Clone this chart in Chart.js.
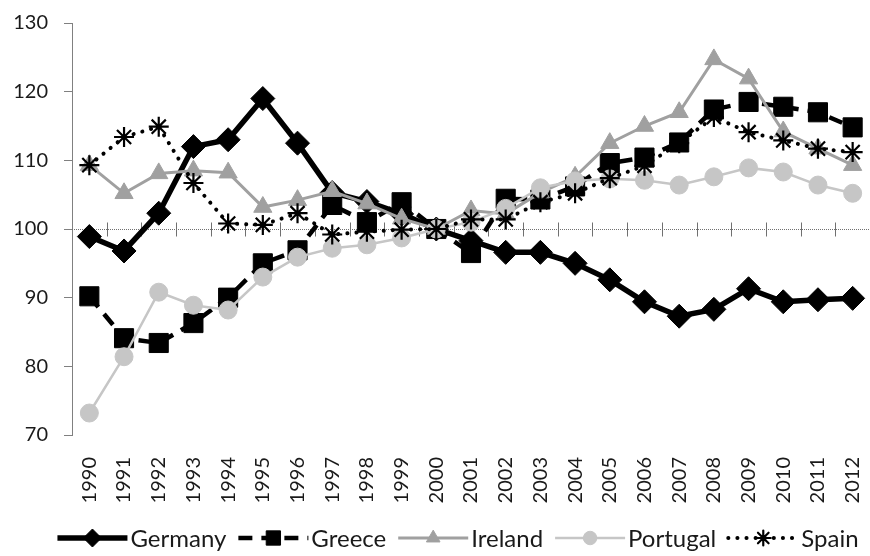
<!DOCTYPE html>
<html>
<head>
<meta charset="utf-8">
<script src="https://cdn.jsdelivr.net/npm/chart.js@4/dist/chart.umd.min.js"></script>
<style>
  html, body { margin: 0; padding: 0; background: #fff; overflow: hidden; }
</style>
</head>
<body>
<canvas id="chart" width="870" height="556"></canvas>
<script>
// categories
const years = ['1990', '1991', '1992', '1993', '1994', '1995', '1996', '1997', '1998', '1999', '2000',
               '2001', '2002', '2003', '2004', '2005', '2006', '2007', '2008', '2009', '2010', '2011', '2012'];

// series (index, 2000 = 100)
const germany  = [98.9, 96.8, 102.3, 112.0, 113.0, 119.0, 112.5, 105.3, 104.0, 102.2, 100, 98.3,
                  96.6, 96.6, 95.0, 92.6, 89.4, 87.3, 88.3, 91.3, 89.4, 89.7, 89.9];
const greece   = [90.2, 84.1, 83.4, 86.3, 90.0, 95.0, 96.9, 103.5, 101.0, 103.9, 100, 96.5,
                  104.4, 104.3, 106.2, 109.6, 110.4, 112.6, 117.4, 118.5, 117.8, 117.0, 114.8];
const ireland  = [109.3, 105.2, 108.1, 108.5, 108.2, 103.2, 104.2, 105.5, 103.7, 101.5, 100, 102.7,
                  102.2, 105.3, 107.6, 112.5, 115.0, 117.0, 124.7, 121.9, 114.2, 111.7, 109.3];
const portugal = [73.2, 81.4, 90.8, 88.9, 88.2, 93.0, 95.9, 97.2, 97.7, 98.7, 100, 101.0,
                  103.0, 106.0, 107.0, 107.3, 107.1, 106.4, 107.6, 108.9, 108.3, 106.4, 105.2];
const spain    = [109.3, 113.4, 114.9, 106.7, 100.8, 100.6, 102.3, 99.2, 99.6, 99.9, 100, 101.4,
                  101.4, 103.9, 105.2, 107.4, 109.2, 112.5, 116.3, 114.1, 112.9, 111.7, 111.2];

// y axis
const yMin = 70, yMax = 130, yStep = 10, baseLine = 100;

const FONT = 'Lato, "Open Sans", sans-serif';

// dotted line at 100 with tick marks between the years
const baseLinePlugin = {
  id: 'baseLine',
  beforeDatasetsDraw(chart) {
    const { ctx, chartArea, scales } = chart;
    const y = Math.round(scales.y.getPixelForValue(baseLine)) + 0.5;
    const n = years.length;
    const step = (chartArea.right - chartArea.left) / n;
    ctx.save();
    ctx.strokeStyle = '#707070';
    ctx.lineWidth = 1;
    ctx.setLineDash([1, 1]);
    ctx.beginPath();
    ctx.moveTo(chartArea.left, y);
    ctx.lineTo(chartArea.right, y);
    ctx.stroke();
    ctx.setLineDash([]);
    ctx.beginPath();
    for (let i = 1; i <= n; i++) {
      const x = Math.round(chartArea.left + i * step) + 0.5;
      ctx.moveTo(x, y - 7);
      ctx.lineTo(x, y + 7);
    }
    ctx.stroke();
    ctx.restore();
  }
};

// legend drawn by hand so each entry shows line + marker like the original
const legendPlugin = {
  id: 'lineLegend',
  afterDraw(chart) {
    const { ctx } = chart;
    const sample = 70, gapText = 3, gapItem = 12;
    const y = 538;
    ctx.save();
    ctx.font = '24px ' + FONT;
    ctx.textBaseline = 'middle';
    const items = chart.data.datasets.map(ds => ({ ds, w: ctx.measureText(ds.label).width }));
    let total = 0;
    items.forEach((it, i) => { total += sample + gapText + it.w + (i < items.length - 1 ? gapItem : 0); });
    let x = 458 - total / 2;
    items.forEach(it => {
      const ds = it.ds;
      ctx.save();
      ctx.strokeStyle = ds.borderColor;
      ctx.lineWidth = ds.borderWidth;
      ctx.lineCap = ds.borderCapStyle || 'butt';
      ctx.setLineDash(ds.borderDash || []);
      ctx.beginPath();
      ctx.moveTo(x, y);
      ctx.lineTo(x + sample, y);
      ctx.stroke();
      ctx.setLineDash([]);
      ctx.fillStyle = ds.pointBackgroundColor;
      ctx.strokeStyle = ds.pointBorderColor;
      ctx.lineWidth = ds.pointBorderWidth;
      Chart.helpers.drawPoint(ctx, {
        pointStyle: ds.pointStyle,
        radius: ds.pointRadius * 0.75,
        rotation: 0,
        borderWidth: ds.pointBorderWidth
      }, x + sample / 2, y);
      ctx.restore();
      ctx.fillStyle = '#1a1a1a';
      ctx.fillText(ds.label, x + sample + gapText, y + 1);
      x += sample + gapText + it.w + gapItem;
    });
    ctx.restore();
  }
};

new Chart(document.getElementById('chart'), {
  type: 'line',
  data: {
    labels: years,
    datasets: [
      {
        label: 'Germany', data: germany, order: 4,
        borderColor: '#000', borderWidth: 5.5,
        pointStyle: 'rectRot', pointRadius: 12,
        pointBackgroundColor: '#000', pointBorderColor: '#000', pointBorderWidth: 1
      },
      {
        label: 'Greece', data: greece, order: 3,
        borderColor: '#000', borderWidth: 4.5, borderDash: [14, 9],
        pointStyle: 'rect', pointRadius: 13.5,
        pointBackgroundColor: '#000', pointBorderColor: '#000', pointBorderWidth: 1
      },
      {
        label: 'Ireland', data: ireland, order: 2,
        borderColor: '#a0a0a0', borderWidth: 3,
        pointStyle: 'triangle', pointRadius: 10.5,
        pointBackgroundColor: '#a0a0a0', pointBorderColor: '#a0a0a0', pointBorderWidth: 1
      },
      {
        label: 'Portugal', data: portugal, order: 1,
        borderColor: '#c6c6c6', borderWidth: 2.5,
        pointStyle: 'circle', pointRadius: 9,
        pointBackgroundColor: '#c6c6c6', pointBorderColor: '#c6c6c6', pointBorderWidth: 1
      },
      {
        label: 'Spain', data: spain, order: 0,
        borderColor: '#000', borderWidth: 4, borderDash: [0.1, 9], borderCapStyle: 'round',
        pointStyle: 'star', pointRadius: 10,
        pointBackgroundColor: '#000', pointBorderColor: '#000', pointBorderWidth: 2.2
      }
    ]
  },
  options: {
    responsive: false,
    animation: false,
    layout: { autoPadding: false, padding: { top: 23, right: -4, bottom: 46, left: 0 } },
    elements: { line: { tension: 0 } },
    plugins: {
      legend: { display: false },
      tooltip: { enabled: false }
    },
    scales: {
      x: {
        offset: true,
        grid: { display: false },
        border: { display: false },
        ticks: {
          minRotation: 90, maxRotation: 90, autoSkip: false,
          padding: 14, color: '#1a1a1a',
          font: { family: FONT, size: 20 }
        },
        afterFit(scale) {
          scale.height = 556 - 46 - 435;
          scale.paddingLeft = 0;
          scale.paddingRight = 0;
        }
      },
      y: {
        min: yMin, max: yMax,
        grid: { drawOnChartArea: false, drawTicks: true, tickLength: 8, color: '#808080' },
        border: { display: true, color: '#808080', dash: [1, 1] },
        ticks: {
          stepSize: yStep, padding: 16, color: '#1a1a1a',
          font: { family: FONT, size: 20 }
        },
        afterFit(scale) {
          scale.width = 72;
          scale.paddingTop = 0;
          scale.paddingBottom = 0;
        }
      }
    }
  },
  plugins: [baseLinePlugin, legendPlugin]
});
</script>
</body>
</html>
